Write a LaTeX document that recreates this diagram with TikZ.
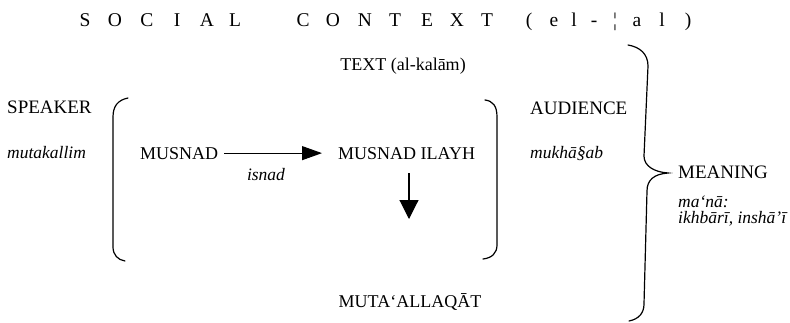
\documentclass[tikz,border=0pt]{standalone}
\usepackage{fontspec}
\setmainfont{Liberation Serif}
\usetikzlibrary{arrows.meta}
\begin{document}
\begin{tikzpicture}[x=1pt,y=-1pt,
  font=\fontsize{18}{21}\selectfont,
  lbl/.style={inner sep=0pt, anchor=base west},
  lblc/.style={inner sep=0pt, anchor=base},
  ital/.style={font=\fontsize{17.5}{20}\selectfont\itshape},
  wide/.style={font=\fontsize{19}{22}\selectfont},
  titlech/.style={inner sep=0pt, anchor=base, font=\fontsize{19.5}{22}\selectfont},
  brk/.style={line width=1.2pt, line cap=round},
  harrow/.style={line width=1.1pt, -{Triangle[length=20pt,width=14pt]}},
  varrow/.style={line width=1.1pt, -{Triangle[length=19pt,width=19pt]}}]
\useasboundingbox (0,0) rectangle (790,322);
% title
\foreach \x/\c [count=\i] in {85/S,115/O,147/C,177/I,207/A,235/L,
  303/C,333/O,365/N,395/T,427/E,457/X,487/T,
  529/(,554/e,574/l,594/-,615/¦,637/a,662/l,688/)}
  \node[titlech] (t\i) at (\x,26.5) {\c};
% texts
\node[lblc] (text) at (403,70) {TEXT (al-kalām)};
\node[lbl,wide] (speaker) at (7,113) {SPEAKER};
\node[lbl,ital] (mutakallim) at (7,158) {mutakallim};
\node[lbl] (musnad) at (140,159) {MUSNAD};
\node[lbl] (ilayh) at (338,159) {MUSNAD ILAYH};
\node[lblc,ital] (isnad) at (266,180) {isnad};
\node[lbl,wide] (audience) at (530,114) {AUDIENCE};
\node[lbl,ital] (mukhatab) at (530,158) {mukhā§ab};
\node[lbl,wide] (meaning) at (678,178) {MEANING};
\node[lbl,ital] (mana) at (678,207) {ma‘nā:};
\node[lbl,ital] (ikhbari) at (678,223) {ikhbārī, inshā’ī};
\node[lblc] (mutaallaqat) at (410,307) {MUTA‘ALLAQĀT};
% arrows
\draw[harrow, shorten <=6pt, shorten >=16pt] (musnad.east) -- (ilayh.west);
\coordinate (dn) at (409,219);
\draw[varrow, shorten <=14pt] (ilayh.south -| dn) -- (dn);
% brackets
\draw[brk] (128,98) .. controls (118,100) and (113,106) .. (113,117)
  -- (113,247) .. controls (113,255) and (118,260) .. (125,261);
\draw[brk] (485,100) .. controls (493,101) and (497,106) .. (497,117)
  -- (497,245) .. controls (497,253) and (492,258) .. (483,259);
% big brace
\draw[brk] (628,45) .. controls (640,47) and (648,54) .. (648,66)
  -- (644,156) .. controls (644,166) and (654,172) .. (668,173)
  .. controls (654,174) and (647,180) .. (647,191)
  -- (644,304) .. controls (644,313) and (639,319) .. (629,321);
\end{tikzpicture}
\end{document}
